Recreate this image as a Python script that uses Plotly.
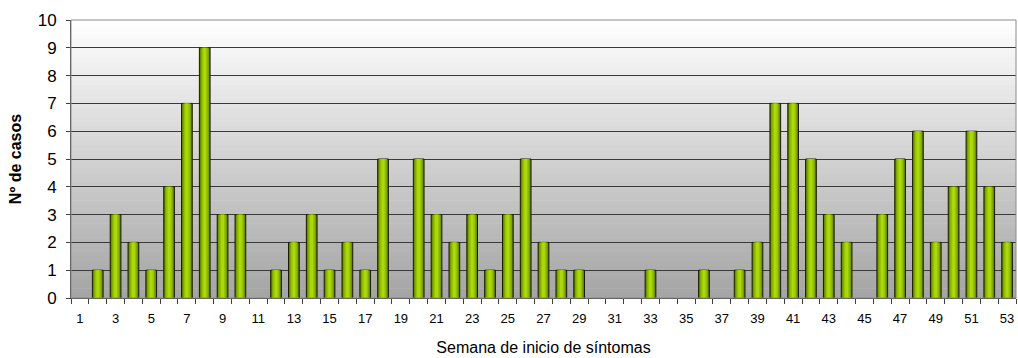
import plotly.graph_objects as go

# Casos por semana epidemiológica de inicio de síntomas
semanas = list(range(1, 54))
casos = [0, 1, 3, 2, 1, 4, 7, 9, 3, 3,
         0, 1, 2, 3, 1, 2, 1, 5, 0, 5,
         3, 2, 3, 1, 3, 5, 2, 1, 1, 0,
         0, 0, 1, 0, 0, 1, 0, 1, 2, 7,
         7, 5, 3, 2, 0, 3, 5, 6, 2, 4,
         6, 4, 2]
etiquetas_x = [str(s) for s in range(1, 54, 2)]
valores_y = list(range(0, 11))

FONT = "Liberation Sans, Arial, sans-serif"

fig = go.Figure()

# Bars drawn as nested layers to give a cylindrical green shading
capas = [
    (0.60, "#5f7f00", 1),
    (0.46, "#7ea600", 0),
    (0.32, "#96c400", 0),
    (0.16, "#acd80c", 0),
]
for ancho, color, borde in capas:
    fig.add_trace(go.Bar(
        x=semanas, y=casos, width=ancho,
        marker=dict(color=color,
                    line=dict(color="#1a1a00",
                              width=[borde if c > 0 else 0 for c in casos])),
        hoverinfo="skip" if borde == 0 else None,
        showlegend=False,
    ))

# Vertical gradient background of the plot area (white at top, grey at bottom)
n_bandas = 60
for i in range(n_bandas):
    t = (i + 0.5) / n_bandas
    g = round(255 - (255 - 164) * (1 - t))
    fig.add_shape(type="rect", xref="paper", yref="paper",
                  x0=0, x1=1, y0=i / n_bandas, y1=(i + 1) / n_bandas + 0.002,
                  fillcolor=f"rgb({g},{g},{g})", line=dict(width=0),
                  layer="below")

# Plot area border
fig.add_shape(type="rect", xref="paper", yref="paper", x0=0, x1=1, y0=0, y1=1,
              line=dict(color="#8c8c8c", width=1), fillcolor="rgba(0,0,0,0)",
              layer="above")

fig.update_layout(
    width=1018, height=358,
    margin=dict(l=71, r=2, t=20, b=60),
    paper_bgcolor="white", plot_bgcolor="rgba(0,0,0,0)",
    barmode="overlay",
    font=dict(family=FONT, size=14, color="black"),
    xaxis=dict(
        range=[0.5, 53.5],
        tickvals=list(range(1, 54, 2)), ticktext=etiquetas_x,
        ticks="", showgrid=False, zeroline=False,
        showline=True, linecolor="#404040", linewidth=1,
        tickfont=dict(size=13), ticklabelstandoff=8,
        minor=dict(tick0=0.5, dtick=1, ticks="outside", ticklen=5,
                   tickcolor="#404040", showgrid=False),
        title=dict(text="Semana de inicio de síntomas",
                   font=dict(size=16), standoff=17),
    ),
    yaxis=dict(
        range=[0, 10], tickvals=valores_y,
        ticks="outside", ticklen=4, tickcolor="#404040",
        showgrid=True, gridcolor="#3a3a3a", gridwidth=1,
        zeroline=False, showline=True, linecolor="#404040", linewidth=1,
        tickfont=dict(size=17), ticklabelstandoff=6,
        title=dict(text="<b>Nº de casos</b>", font=dict(size=16), standoff=12),
    ),
)

fig.write_html("out.html")
